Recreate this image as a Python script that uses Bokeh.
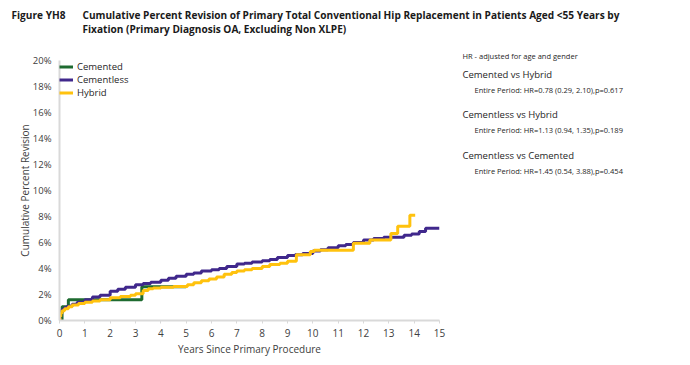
from bokeh.plotting import figure
from bokeh.layouts import column, row
from bokeh.models import Label, Range1d, FixedTicker, Legend, LegendItem, CustomJSTickFormatter
from bokeh.embed import file_html
from bokeh.resources import INLINE

# ---- data (years, cumulative percent revision) ----
cemented_x = [0, 0.1, 0.35, 3.25, 5.0]
cemented_y = [0, 1.05, 1.6, 2.6, 2.6]

cementless_x = [0, 0.02, 0.05, 0.1, 0.2, 0.3, 0.5, 0.7, 1.0, 1.3, 1.6, 2.0, 2.3, 2.6, 3.0, 3.3, 3.6,
                4.0, 4.3, 4.6, 5.0, 5.3, 5.6, 6.0, 6.3, 6.6, 7.0, 7.3, 7.6, 8.0, 8.3, 8.6, 9.0, 9.3,
                9.6, 10.0, 10.3, 10.6, 11.0, 11.3, 11.6, 12.0, 12.4, 12.8, 13.2, 13.6, 13.9, 14.2,
                14.45, 15.0]
cementless_y = [0, 0.35, 0.6, 0.85, 1.0, 1.1, 1.25, 1.4, 1.6, 1.8, 1.95, 2.25, 2.4, 2.55, 2.75, 2.85,
                2.95, 3.1, 3.25, 3.4, 3.55, 3.65, 3.8, 3.9, 4.0, 4.15, 4.35, 4.4, 4.5, 4.6, 4.7, 4.85,
                5.0, 5.05, 5.15, 5.35, 5.45, 5.6, 5.75, 5.85, 6.0, 6.2, 6.3, 6.4, 6.4, 6.55, 6.65,
                6.85, 7.1, 7.1]

hybrid_x = [0, 0.02, 0.05, 0.1, 0.2, 0.35, 0.5, 0.75, 1.0, 1.3, 1.6, 2.0, 2.4, 2.8, 3.0, 3.3, 3.5,
            3.7, 4.0, 4.5, 5.05, 5.3, 5.6, 5.9, 6.2, 6.5, 6.8, 7.0, 7.3, 7.6, 8.0, 8.3, 8.7, 9.0,
            9.35, 9.9, 10.05, 11.6, 12.25, 13.08, 13.35, 13.83, 14.04]
hybrid_y = [0, 0.3, 0.55, 0.75, 0.9, 1.05, 1.2, 1.3, 1.4, 1.5, 1.6, 1.75, 1.85, 1.95, 2.05, 2.3,
            2.45, 2.5, 2.55, 2.62, 2.75, 2.9, 3.05, 3.2, 3.35, 3.55, 3.7, 3.8, 3.9, 4.0, 4.15, 4.3,
            4.4, 4.55, 5.05, 5.3, 5.4, 5.95, 6.2, 6.7, 7.25, 8.1, 8.1]

x_ticks = list(range(0, 16))
y_ticks = [0, 2, 4, 6, 8, 10, 12, 14, 16, 18, 20]

series_names = ["Cemented", "Cementless", "Hybrid"]
series_colors = ["#1e6b30", "#40288c", "#ffc20e"]

title_fig = "Figure YH8"
title_text1 = "Cumulative Percent Revision of Primary Total Conventional Hip Replacement in Patients Aged <55 Years by"
title_text2 = "Fixation (Primary Diagnosis OA, Excluding Non XLPE)"
hr_note = "HR - adjusted for age and gender"
comparisons = ["Cemented vs Hybrid", "Cementless vs Hybrid", "Cementless vs Cemented"]
comparison_stats = ["Entire Period: HR=0.78 (0.29, 2.10),p=0.617",
                    "Entire Period: HR=1.13 (0.94, 1.35),p=0.189",
                    "Entire Period: HR=1.45 (0.54, 3.88),p=0.454"]

FONT = "Open Sans"
TOTAL_W = 688
TITLE_H = 36
MAIN_W = 450
BODY_H = 327
BT, BB = 24, 43  # main chart top / bottom borders


def no_align(f):
    if "frame_align" in f.properties():
        f.frame_align = False
        return True
    return False


def blank_fig(w, h, x0, y0):
    # ranges expressed in page pixels so labels can be placed by page position
    f = figure(width=w, height=h, output_backend="svg", toolbar_location=None, title=None,
               x_range=Range1d(x0, x0 + w), y_range=Range1d(y0 + h, y0),
               min_border=0, x_axis_type=None, y_axis_type=None)
    f.outline_line_color = None
    f.grid.grid_line_color = None
    return f


def add_label(f, x, y, text, size, bold=False, color="#262626"):
    f.add_layout(Label(x=x, y=y, text=text, text_font=FONT, text_font_size=size,
                       text_color=color, text_font_style="bold" if bold else "normal",
                       text_baseline="middle", text_align="left"))


# ---- title strip ----
tf = blank_fig(TOTAL_W, TITLE_H, 0, 0)
no_align(tf)
add_label(tf, 11, 14, title_fig, "10.1px", bold=True, color="#1a1a1a")
add_label(tf, 82, 14, title_text1, "10.1px", bold=True, color="#1a1a1a")
add_label(tf, 82, 28, title_text2, "10.1px", bold=True, color="#1a1a1a")

# ---- main chart ----
p = figure(width=MAIN_W, height=BODY_H, output_backend="svg", toolbar_location=None,
           title=None, x_range=Range1d(0, 15), y_range=Range1d(0, 20),
           min_border_left=59, min_border_right=11, min_border_top=BT, min_border_bottom=BB)
p.outline_line_color = None
p.xgrid.grid_line_color = None
p.ygrid.grid_line_color = None

for ax in (p.xaxis, p.yaxis):
    ax.axis_line_color = "#d9d9d9"
    ax.axis_line_width = 2
    ax.major_tick_line_color = None
    ax.minor_tick_line_color = None
    ax.major_label_text_font = FONT
    ax.major_label_text_font_size = "10px"
    ax.major_label_text_color = "#404040"
    ax.axis_label_text_font = FONT
    ax.axis_label_text_font_size = "10px"
    ax.axis_label_text_font_style = "normal"
    ax.axis_label_text_color = "#404040"

p.yaxis.major_label_text_font_size = "9.5px"
p.xaxis.major_tick_line_color = "#d9d9d9"
p.xaxis.major_tick_in = 0
p.xaxis.major_tick_out = 3
p.xaxis.ticker = FixedTicker(ticks=x_ticks)
p.yaxis.ticker = FixedTicker(ticks=y_ticks)
p.yaxis.formatter = CustomJSTickFormatter(code="return tick + '%';")
p.xaxis.axis_label = "Years Since Primary Procedure"
p.yaxis.axis_label = "Cumulative Percent Revision"
p.xaxis.major_label_standoff = 5
p.yaxis.major_label_standoff = 2
p.xaxis.axis_label_standoff = 2
p.yaxis.axis_label_standoff = -2

items = []
for xs, ys, name, col in zip([cemented_x, cementless_x, hybrid_x],
                             [cemented_y, cementless_y, hybrid_y],
                             series_names, series_colors):
    r = p.step(xs, ys, mode="after", line_color=col, line_width=3)
    items.append(LegendItem(label=name, renderers=[r]))

legend = Legend(items=items, location="top_left", border_line_color=None,
                background_fill_alpha=0, label_text_font=FONT, label_text_font_size="9.5px",
                label_text_color="#262626", glyph_width=14, glyph_height=11,
                label_height=11, spacing=-2, padding=2, margin=0, label_standoff=4)
p.add_layout(legend)
no_align(p)

# ---- right-side annotation panel ----
af_w = TOTAL_W - MAIN_W
af = blank_fig(af_w, BODY_H, MAIN_W, TITLE_H)
if not no_align(af):
    # frames in a row are aligned: the panel's frame matches the chart's frame
    af.y_range = Range1d(TITLE_H + BODY_H - BB, TITLE_H + BT)
    af.min_border_top = BT
    af.min_border_bottom = BB

add_label(af, 462, 55, hr_note, "7.5px")
for i, (c, s) in enumerate(zip(comparisons, comparison_stats)):
    add_label(af, 462, 73.5 + 40.5 * i, c, "9.5px")
    add_label(af, 474, 89 + 40.5 * i, s, "7.5px")

layout = column(tf, row(p, af, spacing=0), spacing=0)
open("out.html", "w").write(file_html(layout, INLINE))
